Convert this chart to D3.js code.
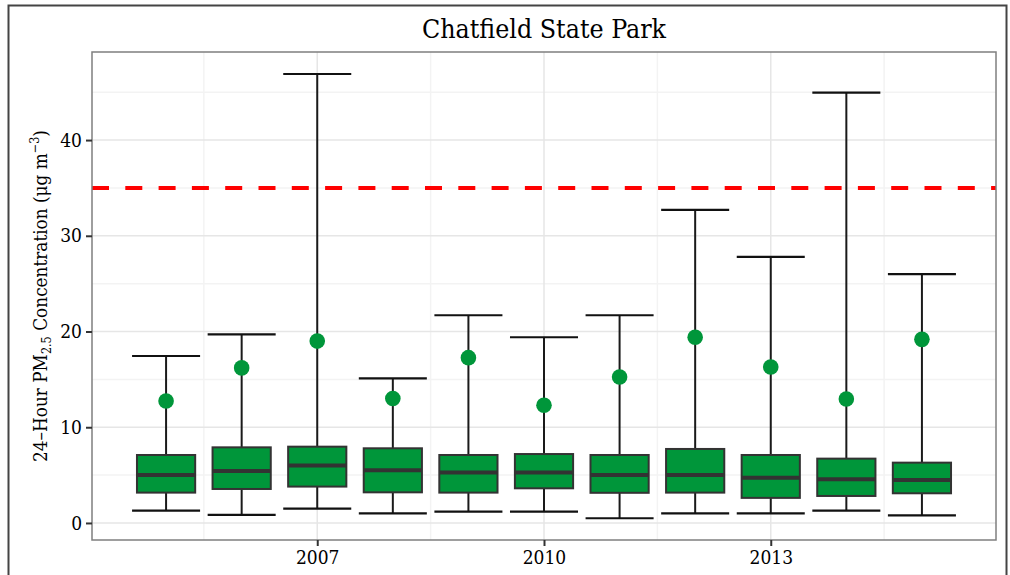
<!DOCTYPE html>
<html>
<head>
<meta charset="utf-8">
<script src="https://cdn.jsdelivr.net/npm/d3@7"></script>
<style>
  body { margin: 0; background: #fff; }
  text { font-family: 'DejaVu Serif Condensed', 'DejaVu Serif', serif; fill: #000; }
</style>
</head>
<body>
<div id="chart"></div>
<script>
// yearly PM2.5 summaries (ug/m3)
var years = [2005, 2006, 2007, 2008, 2009, 2010, 2011, 2012, 2013, 2014, 2015];
var minVals = [1.29, 0.84, 1.5, 1.0, 1.18, 1.18, 0.49, 1.0, 1.0, 1.29, 0.8];
var q1Vals = [3.17, 3.55, 3.8, 3.2, 3.17, 3.62, 3.15, 3.17, 2.62, 2.82, 3.1];
var medianVals = [5.0, 5.43, 6.0, 5.5, 5.26, 5.26, 5.0, 5.0, 4.73, 4.56, 4.49];
var q3Vals = [7.1, 7.9, 7.97, 7.8, 7.1, 7.2, 7.1, 7.73, 7.1, 6.72, 6.3];
var maxVals = [17.44, 19.7, 46.9, 15.1, 21.7, 19.4, 21.7, 32.7, 27.8, 44.95, 26.0];
var p98Vals = [12.74, 16.2, 19.0, 13.0, 17.27, 12.3, 15.25, 19.4, 16.3, 12.95, 19.18];
var standard = 35;
var yTicks = [0, 10, 20, 30, 40];
var yMinor = [5, 15, 25, 35, 45];
var xTicks = [2007, 2010, 2013];
var xMinor = [2005.5, 2008.5, 2011.5, 2014.5];

var svgWidth = 1010,
    svgHeight = 575,
    panel = { left: 92, right: 996, top: 52, bottom: 540 },
    green = '#00963A',
    boxW = 0.77,
    capW = 0.9;

var data = years.map(function (d, i) {
    return {
        year: d,
        min: minVals[i],
        q1: q1Vals[i],
        median: medianVals[i],
        q3: q3Vals[i],
        max: maxVals[i],
        p98: p98Vals[i]
    };
});

var x = d3.scaleLinear().domain([2004.02, 2015.98]).range([panel.left, panel.right]),
    y = d3.scaleLinear().domain([-1.78, 49.2]).range([panel.bottom, panel.top]);

var svg = d3.select('#chart').append('svg')
    .attr('width', svgWidth)
    .attr('height', svgHeight);

// outer frame (bottom edge runs off the picture)
svg.append('rect')
    .attr('x', 8.5).attr('y', 5.5)
    .attr('width', 998).attr('height', 640)
    .attr('fill', 'none')
    .attr('stroke', '#444')
    .attr('stroke-width', 2);

// grid
var grid = svg.append('g');
grid.selectAll('.hminor').data(yMinor).enter().append('line')
    .attr('x1', panel.left).attr('x2', panel.right)
    .attr('y1', function (d) { return y(d); })
    .attr('y2', function (d) { return y(d); })
    .attr('stroke', '#f3f3f3').attr('stroke-width', 1.5);
grid.selectAll('.vminor').data(xMinor).enter().append('line')
    .attr('y1', panel.top).attr('y2', panel.bottom)
    .attr('x1', function (d) { return x(d); })
    .attr('x2', function (d) { return x(d); })
    .attr('stroke', '#f3f3f3').attr('stroke-width', 1.5);
grid.selectAll('.hmajor').data(yTicks).enter().append('line')
    .attr('x1', panel.left).attr('x2', panel.right)
    .attr('y1', function (d) { return y(d); })
    .attr('y2', function (d) { return y(d); })
    .attr('stroke', '#e6e6e6').attr('stroke-width', 1.5);
grid.selectAll('.vmajor').data(xTicks).enter().append('line')
    .attr('y1', panel.top).attr('y2', panel.bottom)
    .attr('x1', function (d) { return x(d); })
    .attr('x2', function (d) { return x(d); })
    .attr('stroke', '#e6e6e6').attr('stroke-width', 1.5);

// NAAQS line
svg.append('line')
    .attr('x1', panel.left).attr('x2', panel.right)
    .attr('y1', y(standard)).attr('y2', y(standard))
    .attr('stroke', '#ff0000')
    .attr('stroke-width', 4)
    .attr('stroke-dasharray', '17,16.3');

// whiskers + caps
var marks = svg.append('g');
marks.selectAll('.whisker').data(data).enter().append('line')
    .attr('x1', function (d) { return x(d.year); })
    .attr('x2', function (d) { return x(d.year); })
    .attr('y1', function (d) { return y(d.min); })
    .attr('y2', function (d) { return y(d.max); })
    .attr('stroke', '#1a1a1a').attr('stroke-width', 2);
['min', 'max'].forEach(function (k) {
    marks.selectAll('.cap-' + k).data(data).enter().append('line')
        .attr('x1', function (d) { return x(d.year - capW / 2); })
        .attr('x2', function (d) { return x(d.year + capW / 2); })
        .attr('y1', function (d) { return y(d[k]); })
        .attr('y2', function (d) { return y(d[k]); })
        .attr('stroke', '#111').attr('stroke-width', 2.2);
});

// boxes
marks.selectAll('.box').data(data).enter().append('rect')
    .attr('x', function (d) { return x(d.year - boxW / 2); })
    .attr('width', x(2005 + boxW) - x(2005))
    .attr('y', function (d) { return y(d.q3); })
    .attr('height', function (d) { return y(d.q1) - y(d.q3); })
    .attr('fill', green)
    .attr('stroke', '#333').attr('stroke-width', 2);
marks.selectAll('.median').data(data).enter().append('line')
    .attr('x1', function (d) { return x(d.year - boxW / 2); })
    .attr('x2', function (d) { return x(d.year + boxW / 2); })
    .attr('y1', function (d) { return y(d.median); })
    .attr('y2', function (d) { return y(d.median); })
    .attr('stroke', '#333').attr('stroke-width', 4);

// 98th percentile points
marks.selectAll('.p98').data(data).enter().append('circle')
    .attr('cx', function (d) { return x(d.year); })
    .attr('cy', function (d) { return y(d.p98); })
    .attr('r', 7.8)
    .attr('fill', green);

// panel border
svg.append('rect')
    .attr('x', panel.left).attr('y', panel.top)
    .attr('width', panel.right - panel.left)
    .attr('height', panel.bottom - panel.top)
    .attr('fill', 'none')
    .attr('stroke', '#7f7f7f').attr('stroke-width', 1.5);

// axes
var yAxis = d3.axisLeft(y).tickValues(yTicks).tickSize(6).tickPadding(4),
    xAxis = d3.axisBottom(x).tickValues(xTicks).tickSize(6).tickPadding(5).tickFormat(d3.format('d'));

var gy = svg.append('g')
    .attr('transform', 'translate(' + panel.left + ',0)')
    .call(yAxis);
var gx = svg.append('g')
    .attr('transform', 'translate(0,' + panel.bottom + ')')
    .call(xAxis);
[gx, gy].forEach(function (g) {
    g.select('.domain').remove();
    g.selectAll('.tick line').attr('stroke', '#333').attr('stroke-width', 2);
    g.selectAll('.tick text')
        .style('font-family', "'DejaVu Serif Condensed', 'DejaVu Serif', serif")
        .style('font-size', '19px')
        .attr('fill', '#000');
});

// titles
svg.append('text')
    .attr('x', (panel.left + panel.right) / 2)
    .attr('y', 38)
    .attr('text-anchor', 'middle')
    .style('font-size', '26.5px')
    .text('Chatfield State Park');

var yt = svg.append('text')
    .attr('transform', 'translate(47,' + (panel.top + panel.bottom) / 2 + ') rotate(-90)')
    .attr('text-anchor', 'middle')
    .style('font-size', '18.8px');
yt.append('tspan').text('24\u2013Hour PM');
yt.append('tspan').attr('dy', 4).style('font-size', '12.5px').text('2.5');
yt.append('tspan').attr('dy', -4).text(' Concentration (\u03bcg m');
yt.append('tspan').attr('dy', -8).style('font-size', '12.5px').text('\u22123');
yt.append('tspan').attr('dy', 8).text(')');
</script>
</body>
</html>
